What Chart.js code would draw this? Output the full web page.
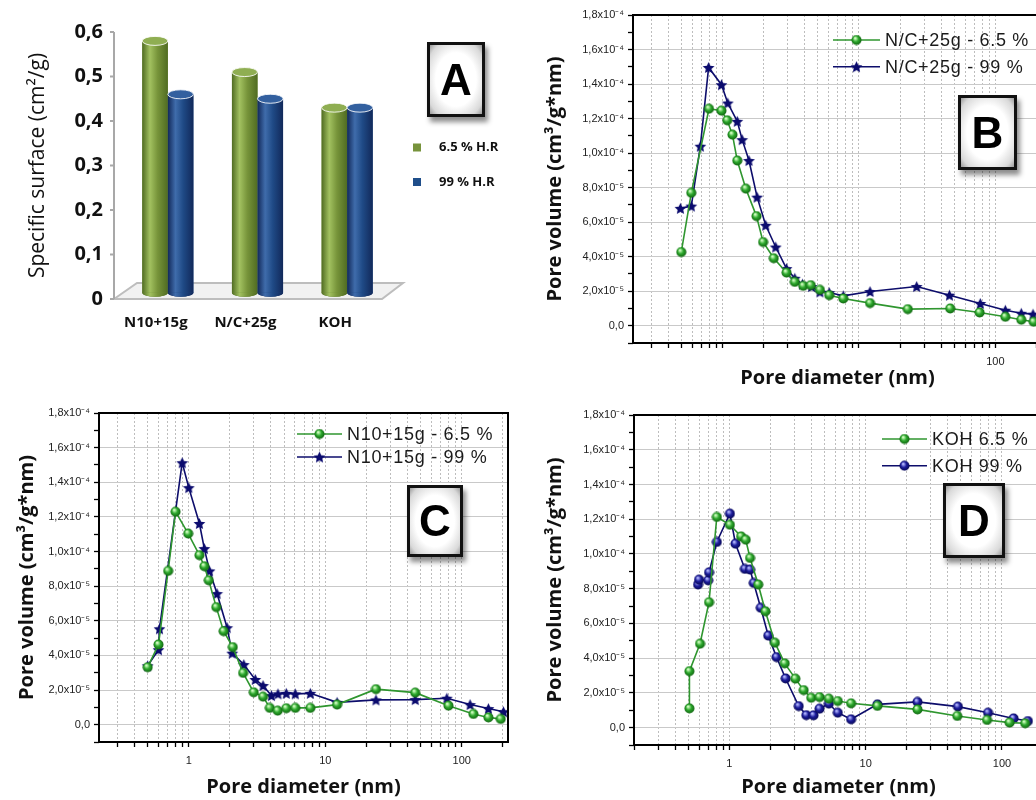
<!DOCTYPE html>
<html>
<head>
<meta charset="utf-8">
<script src="https://cdn.jsdelivr.net/npm/chart.js@4.4.1/dist/chart.umd.min.js"></script>
<style>
  html, body { margin: 0; padding: 0; width: 1036px; height: 800px; overflow: hidden; background: #fff; }
  canvas { position: absolute; }
  .tag {
    position: absolute; box-sizing: border-box;
    border: 3px solid #111;
    background: radial-gradient(ellipse at center, #ffffff 55%, #d9d9d9 85%, #9a9a9a 100%);
    box-shadow: 3px 5px 5px rgba(0, 0, 0, 0.45);
    font: bold 44px "Liberation Sans", Arial, sans-serif;
    color: #000; text-align: center; display: flex; align-items: center; justify-content: center;
  }
</style>
</head>
<body>
<canvas id="chartA" width="520" height="340" style="left:0;top:0"></canvas>
<canvas id="chartB" width="520" height="400" style="left:530px;top:0"></canvas>
<canvas id="chartC" width="520" height="400" style="left:0;top:400px"></canvas>
<canvas id="chartD" width="520" height="400" style="left:530px;top:400px"></canvas>

<div class="tag" style="left:427px;top:42px;width:58px;height:75px">A</div>
<div class="tag" style="left:958px;top:95px;width:59px;height:75px">B</div>
<div class="tag" style="left:407px;top:485px;width:56px;height:72px">C</div>
<div class="tag" style="left:943px;top:483px;width:62px;height:75px">D</div>

<script>
// ---------- panel A : specific surface
const samples = ['N10+15g', 'N/C+25g', 'KOH'];
const surface65 = [0.58, 0.51, 0.43];   // 6.5 % H.R
const surface99 = [0.46, 0.45, 0.43];   // 99 % H.R
const surfaceTicks = [0, 0.1, 0.2, 0.3, 0.4, 0.5, 0.6];
const surfaceTickLabels = ['0', '0,1', '0,2', '0,3', '0,4', '0,5', '0,6'];

// ---------- pore size distributions (shared axes)
const volTicks = [0, 2e-5, 4e-5, 6e-5, 8e-5, 1e-4, 1.2e-4, 1.4e-4, 1.6e-4, 1.8e-4];
const volTickLabels = ['0,0', '2,0x10⁻⁵', '4,0x10⁻⁵', '6,0x10⁻⁵', '8,0x10⁻⁵',
  '1,0x10⁻⁴', '1,2x10⁻⁴', '1,4x10⁻⁴', '1,6x10⁻⁴', '1,8x10⁻⁴'];
const diamGrid = [0.2, 0.3, 0.4, 0.5, 0.6, 0.7, 0.8, 0.9, 1, 2, 3, 4, 5, 6, 7, 8, 9,
  10, 20, 30, 40, 50, 60, 70, 80, 90, 100, 200];

// panel B : N/C+25g
const bDiam65 = [0.497, 0.589, 0.794, 0.98, 1.08, 1.18, 1.28, 1.48, 1.77, 1.98, 2.37, 2.94, 3.38,
  3.90, 4.43, 5.17, 6.05, 7.67, 12.05, 22.8, 46.7, 76.7, 118.5, 155, 191];
const bVol65 = [4.27e-5, 7.70e-5, 12.57e-5, 12.46e-5, 11.90e-5, 11.07e-5, 9.57e-5, 7.94e-5, 6.35e-5,
  4.85e-5, 3.91e-5, 3.08e-5, 2.54e-5, 2.31e-5, 2.35e-5, 2.08e-5, 1.77e-5, 1.58e-5, 1.31e-5,
  0.96e-5, 1.00e-5, 0.77e-5, 0.52e-5, 0.35e-5, 0.23e-5];
const bDiam99 = [0.49, 0.589, 0.686, 0.789, 0.98, 1.09, 1.28, 1.39, 1.56, 1.79, 2.07, 2.45, 2.94,
  3.38, 3.85, 4.49, 5.17, 6.05, 7.67, 12.05, 26.5, 46.1, 77.6, 118.5, 155, 189];
const bVol99 = [6.80e-5, 6.93e-5, 10.40e-5, 14.96e-5, 13.96e-5, 12.90e-5, 11.84e-5, 10.78e-5, 9.57e-5,
  7.45e-5, 5.82e-5, 4.56e-5, 3.31e-5, 2.75e-5, 2.41e-5, 2.27e-5, 1.96e-5, 1.92e-5, 1.73e-5,
  1.98e-5, 2.27e-5, 1.77e-5, 1.29e-5, 0.90e-5, 0.72e-5, 0.67e-5];

// panel C : N10+15g
const cDiam65 = [0.50, 0.60, 0.706, 0.80, 0.99, 1.197, 1.30, 1.40, 1.59, 1.80, 2.10, 2.50, 2.99,
  3.50, 3.92, 4.48, 5.18, 6.03, 7.77, 12.2, 23.5, 45.6, 79.9, 121.6, 156.6, 192.8];
const cVol65 = [3.32e-5, 4.63e-5, 8.88e-5, 12.30e-5, 11.04e-5, 9.79e-5, 9.15e-5, 8.34e-5, 6.79e-5,
  5.40e-5, 4.48e-5, 2.99e-5, 1.87e-5, 1.62e-5, 0.97e-5, 0.81e-5, 0.95e-5, 0.97e-5, 0.97e-5,
  1.16e-5, 2.05e-5, 1.85e-5, 1.10e-5, 0.62e-5, 0.42e-5, 0.33e-5];
const cDiam99 = [0.50, 0.60, 0.61, 0.895, 1.0, 1.197, 1.30, 1.42, 1.61, 1.91, 2.08, 2.53, 3.07,
  3.50, 4.03, 4.50, 5.18, 6.03, 7.77, 12.2, 23.5, 45.6, 77.7, 115, 156.6, 202];
const cVol99 = [3.40e-5, 4.33e-5, 5.54e-5, 15.13e-5, 13.69e-5, 11.62e-5, 10.17e-5, 8.88e-5, 7.57e-5,
  5.60e-5, 4.13e-5, 3.47e-5, 2.61e-5, 2.26e-5, 1.68e-5, 1.78e-5, 1.81e-5, 1.78e-5, 1.81e-5,
  1.29e-5, 1.43e-5, 1.45e-5, 1.53e-5, 1.16e-5, 0.93e-5, 0.75e-5];

// panel D : KOH
const dDiam65 = [0.51, 0.51, 0.61, 0.71, 0.81, 1.01, 1.22, 1.32, 1.42, 1.63, 1.84, 2.16, 2.55,
  3.05, 3.51, 3.99, 4.59, 5.37, 6.25, 7.82, 12.2, 24.0, 47, 77.7, 113.8, 148];
const dVol65 = [1.11e-5, 3.25e-5, 4.83e-5, 7.22e-5, 12.13e-5, 11.68e-5, 11.01e-5, 10.82e-5, 9.77e-5,
  8.24e-5, 6.70e-5, 4.89e-5, 3.70e-5, 2.82e-5, 2.16e-5, 1.72e-5, 1.76e-5, 1.67e-5, 1.53e-5,
  1.40e-5, 1.25e-5, 1.05e-5, 0.67e-5, 0.44e-5, 0.29e-5, 0.25e-5];
const dDiam99 = [0.59, 0.60, 0.70, 0.71, 0.81, 1.01, 1.11, 1.30, 1.42, 1.51, 1.70, 1.93, 2.22,
  2.59, 3.23, 3.67, 4.15, 4.59, 5.37, 6.25, 7.82, 12.2, 24.0, 47.5, 79, 121.7, 155];
const dVol99 = [8.24e-5, 8.52e-5, 8.48e-5, 8.94e-5, 10.69e-5, 12.32e-5, 10.59e-5, 9.14e-5, 9.10e-5,
  8.33e-5, 6.90e-5, 5.30e-5, 4.06e-5, 2.83e-5, 1.24e-5, 0.72e-5, 0.71e-5, 1.09e-5, 1.38e-5,
  0.86e-5, 0.48e-5, 1.34e-5, 1.48e-5, 1.21e-5, 0.86e-5, 0.53e-5, 0.38e-5];

// ---------- colours / markers
const GREEN_LINE = '#2f962f';
const NAVY_LINE = '#0d0d6b';
const TITLE_FONT = { family: '"Open Sans", sans-serif', size: 20, weight: 'bold' };
const TICK_FONT = { family: '"Liberation Sans", Arial, sans-serif', size: 11 };

function ballMarker(size, hi, mid, lo) {
  const c = document.createElement('canvas');
  c.width = c.height = size;
  const g = c.getContext('2d');
  const r = size / 2;
  const grad = g.createRadialGradient(r * 0.75, r * 0.65, r * 0.1, r, r, r);
  grad.addColorStop(0, hi);
  grad.addColorStop(0.45, mid);
  grad.addColorStop(1, lo);
  g.fillStyle = grad;
  g.beginPath();
  g.arc(r, r, r - 0.5, 0, Math.PI * 2);
  g.fill();
  return c;
}

function starMarker(size, color) {
  const c = document.createElement('canvas');
  c.width = c.height = size;
  const g = c.getContext('2d');
  const r = size / 2, ri = r * 0.45;
  g.fillStyle = color;
  g.beginPath();
  for (let k = 0; k < 10; k++) {
    const rad = k % 2 ? ri : r - 0.3;
    const a = -Math.PI / 2 + k * Math.PI / 5;
    g.lineTo(r + rad * Math.cos(a), r + 0.6 + rad * Math.sin(a));
  }
  g.closePath();
  g.fill();
  return c;
}

const greenBall = ballMarker(11, '#d4ffc4', '#2eaa2e', '#0b5a0b');
const navyBall = ballMarker(11, '#b4b8ff', '#1c1c9c', '#06064a');
const navyStar = starMarker(13, '#0b0b6e');

const pairs = (xs, ys) => xs.map((x, i) => ({ x: x, y: ys[i] }));
const sameVal = (a, b) => Math.abs(a - b) < 1e-12;

// black box around the plot
const framePlugin = {
  id: 'frame',
  afterDatasetsDraw(chart) {
    const { ctx, chartArea: a } = chart;
    ctx.save();
    ctx.lineWidth = 2;
    ctx.strokeStyle = '#000';
    ctx.strokeRect(a.left, a.top, a.right - a.left, a.bottom - a.top);
    ctx.restore();
  }
};

// Origin style legend: line - marker - line + text
const keyPlugin = {
  id: 'seriesKey',
  afterDraw(chart, args, opts) {
    const ctx = chart.ctx;
    chart.data.datasets.forEach((ds, i) => {
      const y = opts.y + i * opts.gap;
      ctx.save();
      ctx.strokeStyle = ds.borderColor;
      ctx.lineWidth = 1.6;
      ctx.beginPath();
      ctx.moveTo(opts.x, y);
      ctx.lineTo(opts.x + opts.len, y);
      ctx.stroke();
      const img = ds.pointStyle;
      ctx.drawImage(img, opts.x + opts.len / 2 - img.width / 2, y - img.height / 2);
      ctx.font = '18px "Liberation Sans", Arial, sans-serif';
      ctx.letterSpacing = '0.7px';
      ctx.fillStyle = '#1a1a1a';
      ctx.textBaseline = 'middle';
      ctx.fillText(ds.label, opts.x + opts.len + 5, y + 1);
      ctx.restore();
    });
  }
};

function poreChart(id, p) {
  const canvas = document.getElementById(id);
  const W = canvas.width, H = canvas.height;
  return new Chart(canvas, {
    type: 'line',
    data: {
      datasets: [
        { label: p.names[0], data: pairs(p.x65, p.y65), borderColor: GREEN_LINE, borderWidth: 1.6,
          pointStyle: greenBall, tension: 0 },
        { label: p.names[1], data: pairs(p.x99, p.y99), borderColor: NAVY_LINE, borderWidth: 1.6,
          pointStyle: p.marker99, tension: 0 }
      ]
    },
    options: {
      responsive: false,
      animation: false,
      events: [],
      layout: { padding: { top: p.area.top, right: W - p.area.right, left: 0, bottom: 0 } },
      plugins: {
        legend: { display: false },
        tooltip: { enabled: false },
        seriesKey: p.key
      },
      scales: {
        x: {
          type: 'logarithmic',
          min: p.xMin,
          max: p.xMax,
          afterBuildTicks: s => { s.ticks = diamGrid.filter(v => v >= s.min && v <= s.max).map(v => ({ value: v })); },
          afterFit: s => { s.height = H - p.area.bottom; },
          ticks: {
            autoSkip: false, maxRotation: 0, padding: 7, color: '#222', font: TICK_FONT,
            callback: v => (p.xLabels.includes(v) ? String(v) : '')
          },
          grid: { color: '#bdbdbd', tickColor: '#000', tickLength: 5, tickWidth: 1.3 },
          border: { display: false, dash: [2, 2] },
          title: { display: true, text: 'Pore diameter (nm)', color: '#111', font: TITLE_FONT,
            padding: { top: 0, bottom: p.xTitlePad } }
        },
        y: {
          min: -1e-5,
          max: 1.8e-4,
          afterBuildTicks: s => {
            s.ticks = volTicks.flatMap(v => [v - 1e-5, v]).map(v => ({ value: v }));
          },
          afterFit: s => { s.width = p.area.left; },
          ticks: {
            autoSkip: false, padding: 4, color: '#222', font: TICK_FONT,
            callback: v => {
              const i = volTicks.findIndex(t => sameVal(t, v));
              return i >= 0 ? volTickLabels[i] : '';
            }
          },
          grid: {
            color: c => (volTicks.some(t => sameVal(t, c.tick.value)) ? '#c9c9c9' : 'rgba(0,0,0,0)'),
            tickColor: '#000', tickLength: 5, tickWidth: 1.3
          },
          border: { display: false },
          title: { display: true, text: 'Pore volume (cm³/g*nm)', color: '#111', font: TITLE_FONT,
            padding: { top: p.yTitlePad, bottom: 0 } }
        }
      }
    },
    plugins: [framePlugin, keyPlugin]
  });
}

poreChart('chartB', {
  names: ['N/C+25g - 6.5 %', 'N/C+25g - 99 %'],
  x65: bDiam65, y65: bVol65, x99: bDiam99, y99: bVol99, marker99: navyStar,
  area: { left: 103, top: 15, right: 512, bottom: 343 },
  xMin: 0.22, xMax: 220, xLabels: [100],
  key: { x: 303, y: 40, gap: 26.7, len: 47 },
  yTitlePad: 13, xTitlePad: 10
});

poreChart('chartC', {
  names: ['N10+15g - 6.5 %', 'N10+15g - 99 %'],
  x65: cDiam65, y65: cVol65, x99: cDiam99, y99: cVol99, marker99: navyStar,
  area: { left: 99, top: 13, right: 508, bottom: 342 },
  xMin: 0.22, xMax: 218, xLabels: [1, 10, 100],
  key: { x: 297, y: 34, gap: 23, len: 45 },
  yTitlePad: 15, xTitlePad: 1
});

poreChart('chartD', {
  names: ['KOH 6.5 %', 'KOH 99 %'],
  x65: dDiam65, y65: dVol65, x99: dDiam99, y99: dVol99, marker99: navyBall,
  area: { left: 104, top: 15, right: 514, bottom: 345 },
  xMin: 0.2, xMax: 200, xLabels: [1, 10, 100],
  key: { x: 352, y: 39, gap: 26.7, len: 45 },
  yTitlePad: 13, xTitlePad: 1
});

// ---------- panel A drawing helpers (3D look over the library's bars)
const barShades = [
  { dark: '#506c22', light: '#a2c160', mid: '#77943a', cap: '#8fae52' },
  { dark: '#12295a', light: '#3f6cab', mid: '#1f4a86', cap: '#33609f' }
];

const floorPlugin = {
  id: 'floor',
  beforeDatasetsDraw(chart) {
    const { ctx, chartArea: a, scales: { y } } = chart;
    const axisX = a.left - 9;
    const front = y.getPixelForValue(0);
    ctx.save();
    // floor slab
    ctx.beginPath();
    ctx.moveTo(axisX, front);
    ctx.lineTo(axisX + 23, front - 16);
    ctx.lineTo(a.right + 11, front - 16);
    ctx.lineTo(a.right - 10, front);
    ctx.closePath();
    ctx.fillStyle = '#f1f1f1';
    ctx.fill();
    ctx.lineWidth = 2;
    ctx.strokeStyle = '#bdbdbd';
    ctx.stroke();
    // value axis
    ctx.beginPath();
    ctx.moveTo(axisX, y.getPixelForValue(0.6));
    ctx.lineTo(axisX, front);
    surfaceTicks.forEach(v => {
      const py = y.getPixelForValue(v);
      ctx.moveTo(axisX - 4, py);
      ctx.lineTo(axisX, py);
    });
    ctx.strokeStyle = '#a8a8a8';
    ctx.stroke();
    // rounded bottoms of the cylinders
    chart.data.datasets.forEach((ds, di) => {
      chart.getDatasetMeta(di).data.forEach(el => {
        const { x, base, width } = el.getProps(['x', 'base', 'width'], true);
        ctx.beginPath();
        ctx.ellipse(x, base, width / 2, 4, 0, 0, Math.PI * 2);
        ctx.fillStyle = barShades[di].dark;
        ctx.fill();
      });
    });
    ctx.restore();
  },
  afterDatasetsDraw(chart) {
    const ctx = chart.ctx;
    ctx.save();
    chart.data.datasets.forEach((ds, di) => {
      const sh = barShades[di];
      chart.getDatasetMeta(di).data.forEach(el => {
        const { x, y, base, width } = el.getProps(['x', 'y', 'base', 'width'], true);
        const l = x - width / 2;
        const grad = ctx.createLinearGradient(l, 0, l + width, 0);
        grad.addColorStop(0, sh.dark);
        grad.addColorStop(0.3, sh.light);
        grad.addColorStop(0.6, sh.mid);
        grad.addColorStop(1, sh.dark);
        ctx.fillStyle = grad;
        ctx.fillRect(l, y, width, base - y);
        ctx.beginPath();
        ctx.ellipse(x, base, width / 2, 4, 0, 0, Math.PI);
        ctx.fill();
        ctx.beginPath();
        ctx.ellipse(x, y, width / 2, 4.5, 0, 0, Math.PI * 2);
        ctx.fillStyle = sh.cap;
        ctx.fill();
        ctx.lineWidth = 1;
        ctx.strokeStyle = 'rgba(255,255,255,0.85)';
        ctx.stroke();
      });
    });
    ctx.restore();
  },
  afterDraw(chart, args, opts) {
    const ctx = chart.ctx;
    ctx.save();
    ctx.font = 'bold 13px "Open Sans", sans-serif';
    ctx.textBaseline = 'middle';
    chart.data.datasets.forEach((ds, di) => {
      const y = opts.y + di * opts.gap;
      ctx.fillStyle = ds.backgroundColor;
      ctx.fillRect(opts.x, y - 4, 8, 8);
      ctx.fillStyle = '#111';
      ctx.fillText(ds.label, opts.x + 26, y);
    });
    ctx.restore();
  }
};

new Chart(document.getElementById('chartA'), {
  type: 'bar',
  data: {
    labels: samples,
    datasets: [
      { label: '6.5 % H.R', data: surface65, backgroundColor: '#77933c', base: 0.014 },
      { label: '99 % H.R', data: surface99, backgroundColor: '#1f4e8a', base: 0.014 }
    ]
  },
  options: {
    responsive: false,
    animation: false,
    events: [],
    categoryPercentage: 0.57,
    barPercentage: 1,
    layout: { padding: { top: 20, right: 128, left: 0, bottom: 0 } },
    plugins: {
      legend: { display: false },
      tooltip: { enabled: false },
      floor: { x: 413, y: 147.5, gap: 34.5 }
    },
    scales: {
      x: {
        afterFit: s => { s.height = 41; },
        ticks: { padding: 15, labelOffset: -12, color: '#111',
          font: { family: '"Open Sans", sans-serif', size: 15, weight: 'bold' } },
        grid: { display: false, drawTicks: false, tickLength: 0 },
        border: { display: false }
      },
      y: {
        min: 0,
        max: 0.6,
        afterBuildTicks: s => { s.ticks = surfaceTicks.map(v => ({ value: v })); },
        afterFit: s => { s.width = 123; },
        ticks: {
          padding: 20, color: '#111',
          font: { family: '"Open Sans", sans-serif', size: 20, weight: 'bold' },
          callback: v => surfaceTickLabels[surfaceTicks.findIndex(t => sameVal(t, v))]
        },
        grid: { display: false, drawTicks: false, tickLength: 0 },
        border: { display: false },
        title: { display: true, text: 'Specific surface (cm²/g)', color: '#111',
          font: { family: '"Open Sans", sans-serif', size: 21 }, padding: { top: 25, bottom: 0 } }
      }
    }
  },
  plugins: [floorPlugin]
});
</script>
</body>
</html>
